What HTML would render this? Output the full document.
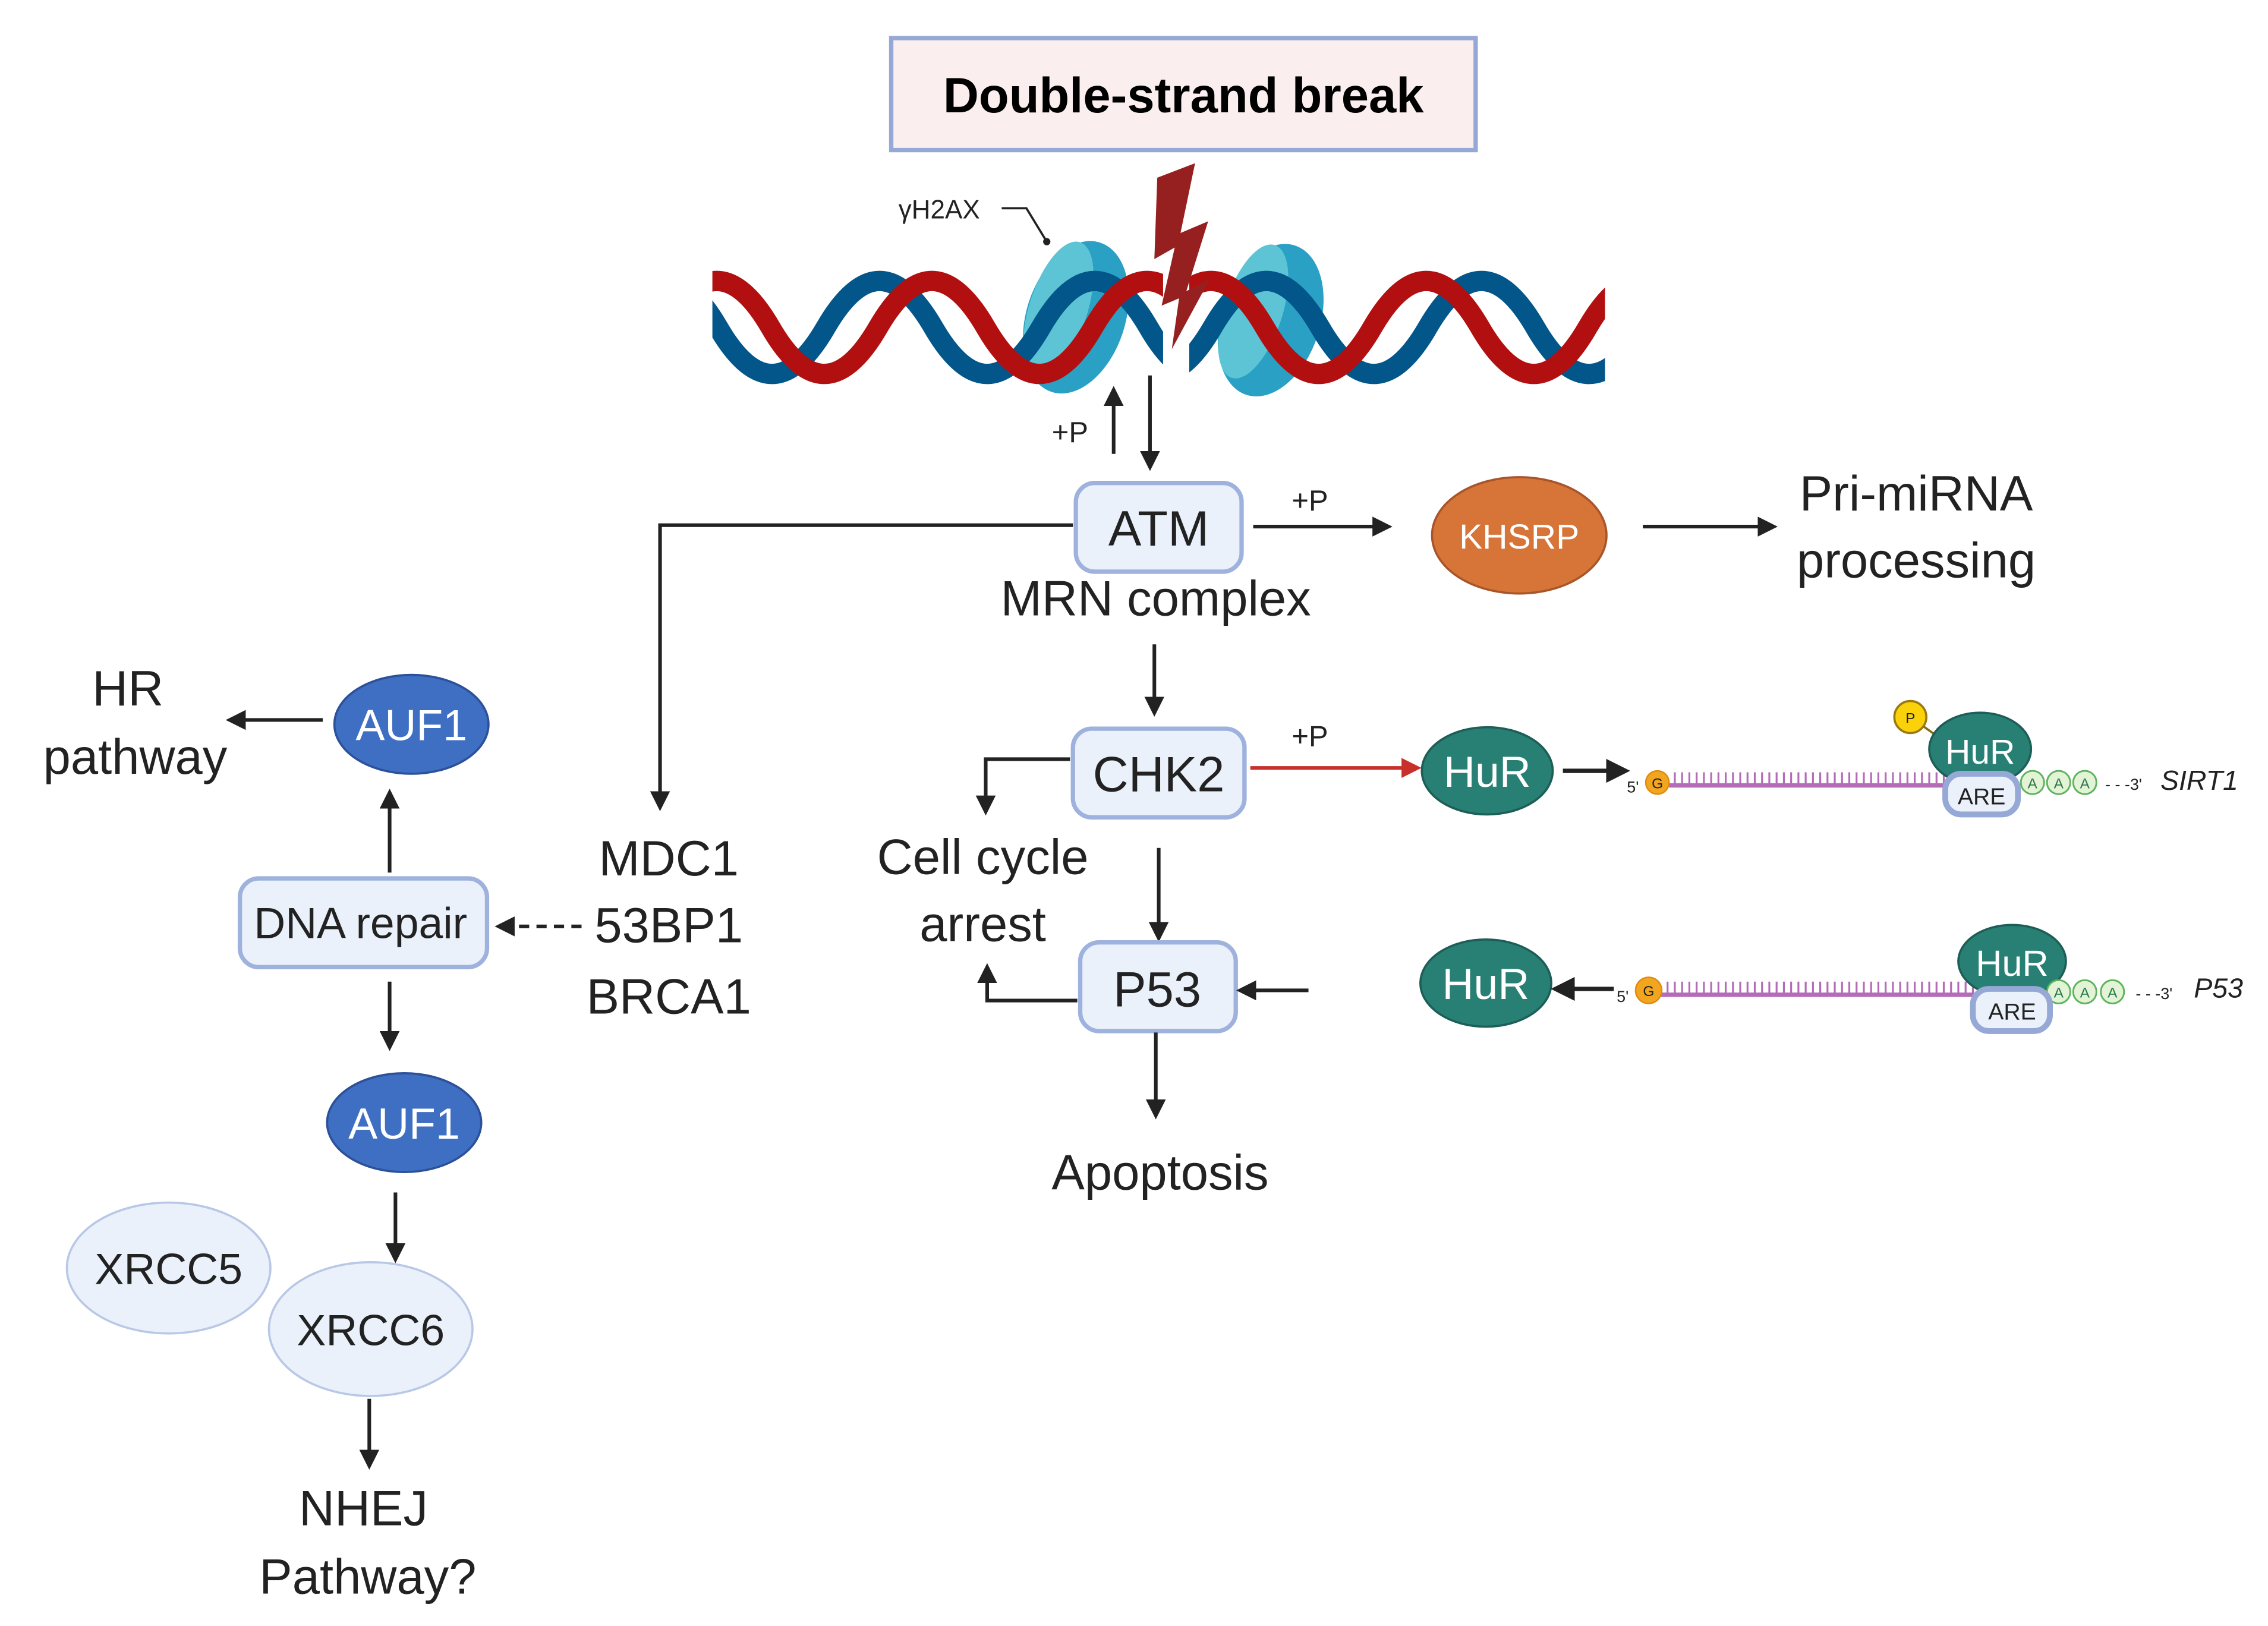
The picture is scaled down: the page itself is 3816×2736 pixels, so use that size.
<!DOCTYPE html>
<html><head><meta charset="utf-8"><style>
html,body{margin:0;padding:0;background:#fff;}
svg{display:block;}
text{font-family:"Liberation Sans",sans-serif;}
</style></head><body>
<svg width="3816" height="2736" viewBox="0 0 1560 1118" xmlns="http://www.w3.org/2000/svg" fill="#222">
<defs>
<marker id="ah" viewBox="0 0 10 10" refX="8" refY="5" markerWidth="5.5" markerHeight="5.5" orient="auto-start-reverse"><path d="M0,0 L10,5 L0,10 z" fill="#222"/></marker>
<marker id="ahr" viewBox="0 0 10 10" refX="8" refY="5" markerWidth="5.5" markerHeight="5.5" orient="auto"><path d="M0,0 L10,5 L0,10 z" fill="#c8302c"/></marker>
<linearGradient id="fadeL" x1="0" x2="1"><stop offset="0" stop-color="#222"/><stop offset="1" stop-color="#222" stop-opacity="0"/></linearGradient>
<clipPath id="cl"><rect x="490" y="150" width="310" height="130"/></clipPath>
<clipPath id="cr"><rect x="818" y="150" width="286" height="130"/></clipPath>
</defs>

<rect x="613" y="26" width="402" height="77" fill="#fbeeee" stroke="#95a8d6" stroke-width="3"/>
<text x="814" y="77" font-size="34" font-weight="bold" text-anchor="middle" fill="#000">Double-strand break</text>

<ellipse cx="740" cy="218" rx="34" ry="54" transform="rotate(18 740 218)" fill="#2aa0c4"/>
<ellipse cx="728" cy="212" rx="20" ry="48" transform="rotate(18 728 212)" fill="#5cc4d4"/>
<ellipse cx="874" cy="220" rx="34" ry="54" transform="rotate(18 874 220)" fill="#2aa0c4"/>
<ellipse cx="862" cy="214" rx="20" ry="48" transform="rotate(18 862 214)" fill="#5cc4d4"/>

<g clip-path="url(#cl)" fill="none" stroke-width="14">
<path d="M420,225 q37,-64 74,0 t74,0 t74,0 t74,0 t74,0 t74,0" stroke="#02568a"/>
<path d="M456,225 q37,-64 74,0 t74,0 t74,0 t74,0 t74,0 t74,0" stroke="#b21010"/>
</g>
<g clip-path="url(#cr)" fill="none" stroke-width="14">
<path d="M760,225 q37,64 74,0 t74,0 t74,0 t74,0 t74,0 t74,0" stroke="#02568a"/>
<path d="M796,225 q37,-64 74,0 t74,0 t74,0 t74,0 t74,0 t74,0" stroke="#b21010"/>
</g>

<polygon points="796,122 822,112 812,160 831,152 816,200 832,192 806,240 811,205 799,210 808,170 794,178" fill="#962020"/>

<text x="618" y="150" font-size="18">γH2AX</text>
<polyline points="689,143 706,143 720,166" fill="none" stroke="#222" stroke-width="1.5"/>
<circle cx="720" cy="166" r="2.5" fill="#222"/>

<line x1="766" y1="312" x2="766" y2="268" stroke="#222" stroke-width="2.5" marker-end="url(#ah)"/>
<text x="736" y="304" font-size="20" text-anchor="middle">+P</text>
<line x1="791" y1="258" x2="791" y2="321" stroke="#222" stroke-width="2.5" marker-end="url(#ah)"/>

<rect x="740" y="332" width="114" height="61" rx="13" fill="#eaf1fb" stroke="#9fb2dd" stroke-width="3"/>
<text x="797" y="375" font-size="34" text-anchor="middle">ATM</text>
<text x="795" y="423" font-size="34" text-anchor="middle">MRN complex</text>
<polyline points="738,361 454,361 454,555" fill="none" stroke="#222" stroke-width="2.5" marker-end="url(#ah)"/>
<text x="901" y="351" font-size="20" text-anchor="middle">+P</text>
<line x1="862" y1="362" x2="955" y2="362" stroke="#222" stroke-width="2.5" marker-end="url(#ah)"/>
<ellipse cx="1045" cy="368" rx="60" ry="40" fill="#d77437" stroke="#a8552a" stroke-width="1.5"/>
<text x="1045" y="377" font-size="24" text-anchor="middle" fill="#fff">KHSRP</text>
<line x1="1130" y1="362" x2="1220" y2="362" stroke="#222" stroke-width="2.5" marker-end="url(#ah)"/>
<text x="1318" y="351" font-size="34" text-anchor="middle">Pri-miRNA</text>
<text x="1318" y="397" font-size="34" text-anchor="middle">processing</text>

<line x1="794" y1="443" x2="794" y2="490" stroke="#222" stroke-width="2.5" marker-end="url(#ah)"/>

<rect x="738" y="501" width="118" height="61" rx="13" fill="#eaf1fb" stroke="#9fb2dd" stroke-width="3"/>
<text x="797" y="544" font-size="34" text-anchor="middle">CHK2</text>
<text x="901" y="513" font-size="20" text-anchor="middle">+P</text>
<line x1="860" y1="528" x2="975" y2="528" stroke="#c8302c" stroke-width="2.5" marker-end="url(#ahr)"/>
<ellipse cx="1023" cy="530" rx="45" ry="30" fill="#287f74" stroke="#1d5e56" stroke-width="1.5"/>
<text x="1023" y="541" font-size="30" text-anchor="middle" fill="#fff">HuR</text>
<line x1="1075" y1="530" x2="1118" y2="530" stroke="#222" stroke-width="3" marker-end="url(#ah)"/>

<text x="1119" y="545" font-size="11">5'</text>
<line x1="1148" y1="540" x2="1340" y2="540" stroke="#b56cb8" stroke-width="3"/>
<path d="M1152,540 v-9 M1157,540 v-9 M1162,540 v-9 M1167,540 v-9 M1172,540 v-9 M1177,540 v-9 M1182,540 v-9 M1187,540 v-9 M1192,540 v-9 M1197,540 v-9 M1202,540 v-9 M1207,540 v-9 M1212,540 v-9 M1217,540 v-9 M1222,540 v-9 M1227,540 v-9 M1232,540 v-9 M1237,540 v-9 M1242,540 v-9 M1247,540 v-9 M1252,540 v-9 M1257,540 v-9 M1262,540 v-9 M1267,540 v-9 M1272,540 v-9 M1277,540 v-9 M1282,540 v-9 M1287,540 v-9 M1292,540 v-9 M1297,540 v-9 M1302,540 v-9 M1307,540 v-9 M1312,540 v-9 M1317,540 v-9 M1322,540 v-9 M1327,540 v-9 M1332,540 v-9 M1337,540 v-9" stroke="#b56cb8" stroke-width="1.3"/>
<circle cx="1140" cy="538" r="8" fill="#f2a51f" stroke="#e08a10"/>
<text x="1140" y="542" font-size="10" text-anchor="middle">G</text>
<line x1="1314" y1="493" x2="1335" y2="508" stroke="#8a6a10" stroke-width="1.5"/>
<circle cx="1314" cy="493" r="11" fill="#fbd20a" stroke="#9a7a10" stroke-width="1.5"/>
<text x="1314" y="497" font-size="10" text-anchor="middle">P</text>
<ellipse cx="1362" cy="515" rx="35" ry="25" fill="#287f74" stroke="#1d5e56" stroke-width="1.5"/>
<text x="1362" y="525" font-size="24" text-anchor="middle" fill="#fff">HuR</text>
<rect x="1338" y="532" width="50" height="28" rx="11" fill="#eaf1fb" stroke="#95a8d6" stroke-width="4"/>
<text x="1363" y="553" font-size="16" text-anchor="middle">ARE</text>
<g fill="#e3f3d6" stroke="#5db45d" stroke-width="1.2">
<circle cx="1398" cy="538" r="8"/><circle cx="1416" cy="538" r="8"/><circle cx="1434" cy="538" r="8"/></g>
<g font-size="10" text-anchor="middle" fill="#2a7a4a"><text x="1398" y="542">A</text><text x="1416" y="542">A</text><text x="1434" y="542">A</text></g>
<text x="1448" y="543" font-size="11">- - -3'</text>
<text x="1486" y="543" font-size="19" font-style="italic">SIRT1</text>

<polyline points="736,522 678,522 678,558" fill="none" stroke="#222" stroke-width="2.5" marker-end="url(#ah)"/>
<text x="676" y="601" font-size="34" text-anchor="middle">Cell cycle</text>
<text x="676" y="647" font-size="34" text-anchor="middle">arrest</text>

<line x1="797" y1="583" x2="797" y2="645" stroke="#222" stroke-width="2.5" marker-end="url(#ah)"/>

<rect x="743" y="648" width="107" height="61" rx="13" fill="#eaf1fb" stroke="#9fb2dd" stroke-width="3"/>
<text x="796" y="692" font-size="34" text-anchor="middle">P53</text>
<line x1="960" y1="681" x2="856" y2="681" stroke="url(#fadeL)" stroke-width="2.5"/>
<line x1="900" y1="681" x2="853" y2="681" stroke="#222" stroke-width="2.5" marker-end="url(#ah)"/>
<ellipse cx="1022" cy="676" rx="45" ry="30" fill="#287f74" stroke="#1d5e56" stroke-width="1.5"/>
<text x="1022" y="687" font-size="30" text-anchor="middle" fill="#fff">HuR</text>
<line x1="1110" y1="680" x2="1070" y2="680" stroke="#222" stroke-width="3" marker-end="url(#ah)"/>
<polyline points="741,688 679,688 679,665" fill="none" stroke="#222" stroke-width="2.5" marker-end="url(#ah)"/>
<line x1="795" y1="710" x2="795" y2="767" stroke="#222" stroke-width="2.5" marker-end="url(#ah)"/>
<text x="798" y="818" font-size="34" text-anchor="middle">Apoptosis</text>

<text x="1112" y="689" font-size="11">5'</text>
<line x1="1142" y1="684" x2="1362" y2="684" stroke="#b56cb8" stroke-width="3"/>
<path d="M1147,684 v-9 M1152,684 v-9 M1157,684 v-9 M1162,684 v-9 M1167,684 v-9 M1172,684 v-9 M1177,684 v-9 M1182,684 v-9 M1187,684 v-9 M1192,684 v-9 M1197,684 v-9 M1202,684 v-9 M1207,684 v-9 M1212,684 v-9 M1217,684 v-9 M1222,684 v-9 M1227,684 v-9 M1232,684 v-9 M1237,684 v-9 M1242,684 v-9 M1247,684 v-9 M1252,684 v-9 M1257,684 v-9 M1262,684 v-9 M1267,684 v-9 M1272,684 v-9 M1277,684 v-9 M1282,684 v-9 M1287,684 v-9 M1292,684 v-9 M1297,684 v-9 M1302,684 v-9 M1307,684 v-9 M1312,684 v-9 M1317,684 v-9 M1322,684 v-9 M1327,684 v-9 M1332,684 v-9 M1337,684 v-9 M1342,684 v-9 M1347,684 v-9 M1352,684 v-9 M1357,684 v-9" stroke="#b56cb8" stroke-width="1.3"/>
<circle cx="1134" cy="681" r="9" fill="#f2a51f" stroke="#e08a10"/>
<text x="1134" y="685" font-size="10" text-anchor="middle">G</text>
<ellipse cx="1384" cy="661" rx="37" ry="25" fill="#287f74" stroke="#1d5e56" stroke-width="1.5"/>
<text x="1384" y="671" font-size="25" text-anchor="middle" fill="#fff">HuR</text>
<g fill="#e3f3d6" stroke="#5db45d" stroke-width="1.2">
<circle cx="1416" cy="682" r="8"/><circle cx="1434" cy="682" r="8"/><circle cx="1453" cy="682" r="8"/></g>
<g font-size="10" text-anchor="middle" fill="#2a7a4a"><text x="1416" y="686">A</text><text x="1434" y="686">A</text><text x="1453" y="686">A</text></g>
<rect x="1357" y="680" width="53" height="29" rx="11" fill="#eaf1fb" stroke="#95a8d6" stroke-width="4"/>
<text x="1384" y="701" font-size="16" text-anchor="middle">ARE</text>
<text x="1469" y="687" font-size="11">- - -3'</text>
<text x="1509" y="686" font-size="19" font-style="italic">P53</text>

<text x="88" y="485" font-size="34" text-anchor="middle">HR</text>
<text x="93" y="532" font-size="34" text-anchor="middle">pathway</text>
<line x1="222" y1="495" x2="158" y2="495" stroke="#222" stroke-width="2.5" marker-end="url(#ah)"/>
<ellipse cx="283" cy="498" rx="53" ry="34" fill="#3f6fc2" stroke="#2c5099" stroke-width="1.5"/>
<text x="283" y="509" font-size="30" text-anchor="middle" fill="#fff">AUF1</text>
<line x1="268" y1="600" x2="268" y2="545" stroke="#222" stroke-width="2.5" marker-end="url(#ah)"/>
<rect x="165" y="604" width="170" height="61" rx="13" fill="#eaf1fb" stroke="#9fb2dd" stroke-width="3"/>
<text x="248" y="645" font-size="30" text-anchor="middle">DNA repair</text>
<line x1="400" y1="637" x2="343" y2="637" stroke="#222" stroke-width="2.5" stroke-dasharray="7,5" marker-end="url(#ah)"/>
<text x="460" y="602" font-size="34" text-anchor="middle">MDC1</text>
<text x="460" y="648" font-size="34" text-anchor="middle">53BP1</text>
<text x="460" y="697" font-size="34" text-anchor="middle">BRCA1</text>
<line x1="268" y1="675" x2="268" y2="720" stroke="#222" stroke-width="2.5" marker-end="url(#ah)"/>
<ellipse cx="278" cy="772" rx="53" ry="34" fill="#3f6fc2" stroke="#2c5099" stroke-width="1.5"/>
<text x="278" y="783" font-size="30" text-anchor="middle" fill="#fff">AUF1</text>
<line x1="272" y1="820" x2="272" y2="866" stroke="#222" stroke-width="2.5" marker-end="url(#ah)"/>
<ellipse cx="116" cy="872" rx="70" ry="45" fill="#eaf1fb" stroke="#b8c8e6" stroke-width="1.5"/>
<text x="116" y="883" font-size="30" text-anchor="middle">XRCC5</text>
<ellipse cx="255" cy="914" rx="70" ry="46" fill="#eaf1fb" stroke="#b8c8e6" stroke-width="1.5"/>
<text x="255" y="925" font-size="30" text-anchor="middle">XRCC6</text>
<line x1="254" y1="962" x2="254" y2="1008" stroke="#222" stroke-width="2.5" marker-end="url(#ah)"/>
<text x="250" y="1049" font-size="34" text-anchor="middle">NHEJ</text>
<text x="253" y="1096" font-size="34" text-anchor="middle">Pathway?</text>
</svg>
</body></html>
